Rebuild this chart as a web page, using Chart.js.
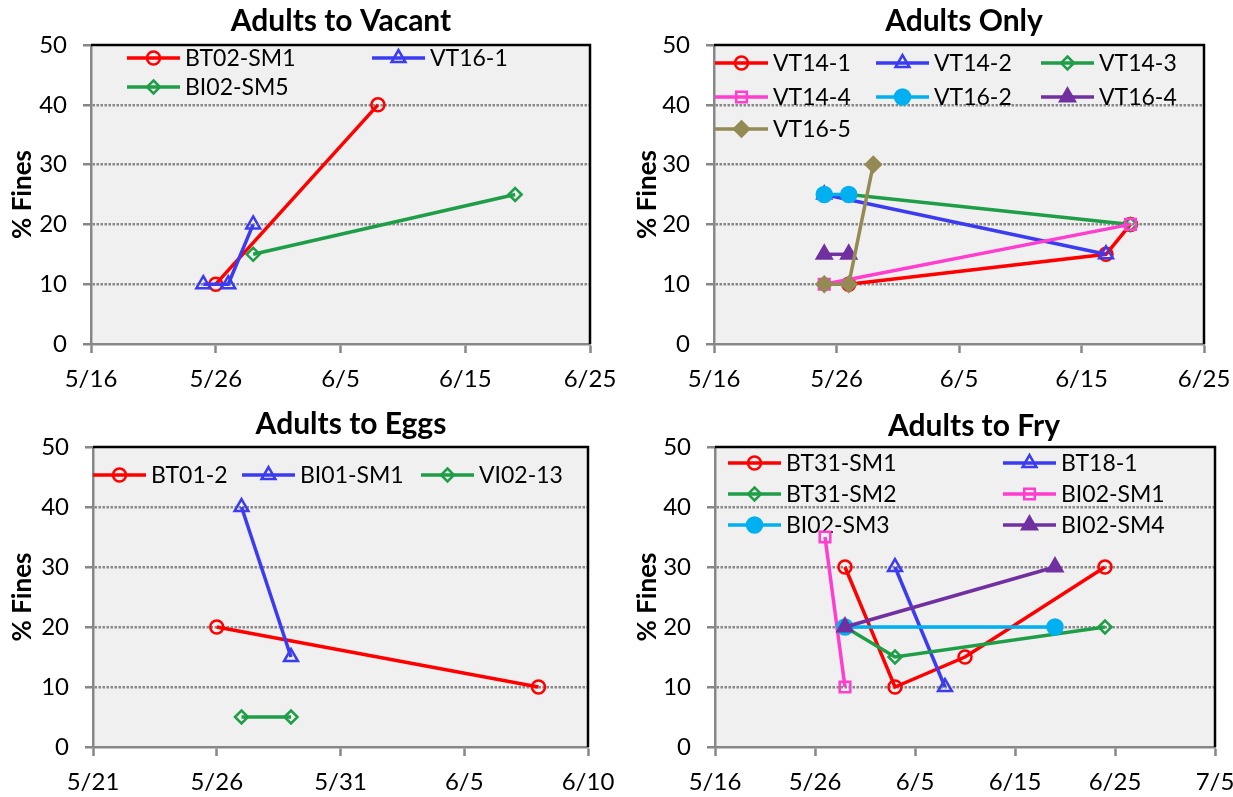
<!DOCTYPE html>
<html><head><meta charset="utf-8">
<script src="https://cdn.jsdelivr.net/npm/chart.js@4.4.1/dist/chart.umd.min.js"></script>
<style>
html,body{margin:0;padding:0;background:#fff;overflow:hidden;width:1233px;height:797px;position:relative;}
canvas{position:absolute;}
</style></head><body>
<canvas id="c1" width="616" height="400" style="left:0;top:0"></canvas>
<canvas id="c2" width="610" height="400" style="left:623px;top:0"></canvas>
<canvas id="c3" width="616" height="397" style="left:0;top:400px"></canvas>
<canvas id="c4" width="650" height="397" style="left:622px;top:400px"></canvas>
<script>
// ---------- DATA ----------
const fineTicks = [0, 10, 20, 30, 40, 50];

const vacantTitle = 'Adults to Vacant';
const vacantSeries = ['BT02-SM1', 'VT16-1', 'BI02-SM5'];
const vacantDates = [['5/26', '6/8'], ['5/25', '5/27', '5/29'], ['5/29', '6/19']];
const vacantFines = [[10, 40], [10, 10, 20], [15, 25]];
const vacantXTicks = ['5/16', '5/26', '6/5', '6/15', '6/25'];

const onlyTitle = 'Adults Only';
const onlySeries = ['VT14-1', 'VT14-2', 'VT14-3', 'VT14-4', 'VT16-2', 'VT16-4', 'VT16-5'];
const onlyDates = [['5/27', '6/17', '6/19'], ['5/25', '6/17'], ['5/27', '6/19'], ['5/25', '6/19'], ['5/25', '5/27'], ['5/25', '5/27'], ['5/25', '5/27', '5/29']];
const onlyFines = [[10, 15, 20], [25, 15], [25, 20], [10, 20], [25, 25], [15, 15], [10, 10, 30]];
const onlyXTicks = ['5/16', '5/26', '6/5', '6/15', '6/25'];

const eggsTitle = 'Adults to Eggs';
const eggsSeries = ['BT01-2', 'BI01-SM1', 'VI02-13'];
const eggsDates = [['5/26', '6/8'], ['5/27', '5/29'], ['5/27', '5/29']];
const eggsFines = [[20, 10], [40, 15], [5, 5]];
const eggsXTicks = ['5/21', '5/26', '5/31', '6/5', '6/10'];

const fryTitle = 'Adults to Fry';
const frySeries = ['BT31-SM1', 'BT18-1', 'BT31-SM2', 'BI02-SM1', 'BI02-SM3', 'BI02-SM4'];
const fryDates = [['5/29', '6/3', '6/10', '6/24'], ['6/3', '6/8'], ['5/29', '6/3', '6/24'], ['5/27', '5/29'], ['5/29', '6/19'], ['5/29', '6/19']];
const fryFines = [[30, 10, 15, 30], [30, 10], [20, 15, 20], [35, 10], [20, 20], [20, 30]];
const fryXTicks = ['5/16', '5/26', '6/5', '6/15', '6/25', '7/5'];

// ---------- STYLES ----------
const LOOK = {
  redCircle:    {color: '#ff0000', shape: 'circle',   r: 6.5, fill: false},
  blueTri:      {color: '#3b3bf2', shape: 'triangle', r: 8,   fill: false},
  greenDiamond: {color: '#1f9e48', shape: 'rectRot',  r: 6.5, fill: false},
  pinkSquare:   {color: '#ff3dce', shape: 'rect',     r: 7.5, fill: false},
  cyanDot:      {color: '#00b0f0', shape: 'circle',   r: 7.5, fill: true},
  purpleTri:    {color: '#7030a0', shape: 'triangle', r: 8.5, fill: true},
  khakiDiamond: {color: '#948a54', shape: 'rectRot',  r: 7.5, fill: true}
};

const PANELS = [
  {canvas: 'c1', title: vacantTitle, series: vacantSeries, dates: vacantDates, fines: vacantFines, xTicks: vacantXTicks,
   looks: ['redCircle', 'blueTri', 'greenDiamond'],
   lay: {top: 45, right: 26, yW: 91, xH: 56, yTitlePad: 7, titleX: 341, titleY: 21, cols: [36, 281], rows: [13, 42]}},
  {canvas: 'c2', title: onlyTitle, series: onlySeries, dates: onlyDates, fines: onlyFines, xTicks: onlyXTicks,
   looks: ['redCircle', 'blueTri', 'greenDiamond', 'pinkSquare', 'cyanDot', 'purpleTri', 'khakiDiamond'],
   lay: {top: 45, right: 29, yW: 91, xH: 56, yTitlePad: 9, titleX: 341, titleY: 21, cols: [1, 162, 327], rows: [18, 52, 84]}},
  {canvas: 'c3', title: eggsTitle, series: eggsSeries, dates: eggsDates, fines: eggsFines, xTicks: eggsXTicks,
   looks: ['redCircle', 'blueTri', 'greenDiamond'],
   lay: {top: 47, right: 28, yW: 93, xH: 50, yTitlePad: 7, titleX: 351, titleY: 24, cols: [0, 149, 328], rows: [28]}},
  {canvas: 'c4', title: fryTitle, series: frySeries, dates: fryDates, fines: fryFines, xTicks: fryXTicks,
   looks: ['redCircle', 'blueTri', 'greenDiamond', 'pinkSquare', 'cyanDot', 'purpleTri'],
   lay: {top: 47, right: 57, yW: 93, xH: 50, yTitlePad: 10, titleX: 352, titleY: 26, cols: [13, 288], rows: [16, 47, 78]}}
];

const DAY = 864e5;
function day(s) { const [m, d] = s.split('/').map(Number); return Date.UTC(2013, m - 1, d) / DAY; }
function dateLabel(v) { const dt = new Date(Math.round(v) * DAY); return (dt.getUTCMonth() + 1) + '/' + dt.getUTCDate(); }

function drawMark(ctx, look, x, y) {
  const r = look.r;
  ctx.save();
  ctx.beginPath();
  if (look.shape === 'circle') {
    ctx.arc(x, y, r, 0, Math.PI * 2);
  } else if (look.shape === 'triangle') {
    let a = 0;
    for (let k = 0; k < 3; k++) { const px = x + Math.sin(a) * r, py = y - Math.cos(a) * r; k ? ctx.lineTo(px, py) : ctx.moveTo(px, py); a += 2 * Math.PI / 3; }
    ctx.closePath();
  } else if (look.shape === 'rect') {
    const s = Math.SQRT1_2 * r; ctx.rect(x - s, y - s, 2 * s, 2 * s);
  } else {
    ctx.moveTo(x, y - r); ctx.lineTo(x + r, y); ctx.lineTo(x, y + r); ctx.lineTo(x - r, y); ctx.closePath();
  }
  if (look.fill) { ctx.fillStyle = look.color; ctx.fill(); }
  ctx.lineWidth = 2.5; ctx.strokeStyle = look.color; ctx.stroke();
  ctx.restore();
}

const decoPlugin = {
  id: 'deco',
  beforeDraw(chart, args, o) {
    const {ctx, chartArea: a} = chart;
    ctx.save();
    ctx.fillStyle = '#f0f0f0';
    ctx.fillRect(a.left, a.top, a.right - a.left, a.bottom - a.top);
    ctx.restore();
  },
  beforeDatasetsDraw(chart, args, o) {
    const {ctx, chartArea: a} = chart;
    ctx.save();
    ctx.strokeStyle = '#000'; ctx.lineWidth = 2.5;
    ctx.beginPath();
    ctx.moveTo(a.left, a.top); ctx.lineTo(a.right, a.top); ctx.lineTo(a.right, a.bottom);
    ctx.stroke();
    // legend
    const p = o.panel;
    ctx.font = '23px Lato';
    ctx.textBaseline = 'middle';
    ctx.textAlign = 'left';
    p.series.forEach((name, i) => {
      const look = LOOK[p.looks[i]];
      const c = i % p.lay.cols.length, r = Math.floor(i / p.lay.cols.length);
      const x0 = a.left + p.lay.cols[c], y = a.top + p.lay.rows[r];
      ctx.strokeStyle = look.color; ctx.lineWidth = 3.5;
      ctx.beginPath(); ctx.moveTo(x0, y); ctx.lineTo(x0 + 53, y); ctx.stroke();
      drawMark(ctx, look, x0 + 26.5, y);
      ctx.fillStyle = '#000';
      ctx.fillText(name, x0 + 58, y + 1);
    });
    ctx.restore();
  },
  afterDraw(chart, args, o) {
    const {ctx} = chart;
    const p = o.panel;
    ctx.save();
    ctx.font = 'bold 30px Lato';
    ctx.fillStyle = '#000';
    ctx.textAlign = 'center';
    ctx.textBaseline = 'middle';
    ctx.fillText(p.title, p.lay.titleX, p.lay.titleY);
    ctx.restore();
  }
};

PANELS.forEach(p => {
  const L = p.lay;
  const datasets = p.series.map((name, i) => {
    const look = LOOK[p.looks[i]];
    return {
      label: name,
      data: p.dates[i].map((d, j) => ({x: day(d), y: p.fines[i][j]})),
      borderColor: look.color,
      backgroundColor: look.color,
      borderWidth: 3.5,
      pointStyle: look.shape,
      pointRadius: look.r,
      pointHoverRadius: look.r,
      pointBorderWidth: 2.5,
      pointBorderColor: look.color,
      pointBackgroundColor: look.fill ? look.color : 'rgba(0,0,0,0)',
      tension: 0,
      fill: false,
      clip: false,
      order: -i
    };
  });
  new Chart(document.getElementById(p.canvas), {
    type: 'line',
    data: {datasets},
    plugins: [decoPlugin],
    options: {
      responsive: false,
      animation: false,
      events: [],
      layout: {padding: {left: 0, top: L.top, right: L.right, bottom: 0}},
      plugins: {legend: {display: false}, tooltip: {enabled: false}, title: {display: false}, deco: {panel: p}},
      scales: {
        x: {
          type: 'linear',
          min: day(p.xTicks[0]),
          max: day(p.xTicks[p.xTicks.length - 1]),
          afterBuildTicks: s => { s.ticks = p.xTicks.map(t => ({value: day(t)})); },
          afterFit: s => { s.height = L.xH; s.paddingLeft = 0; s.paddingRight = 0; },
          grid: {display: true, drawOnChartArea: false, drawTicks: true, tickLength: 9, tickColor: '#878787', tickWidth: 2.5, tickBorderDash: [], color: '#878787'},
          border: {display: true, color: '#878787', width: 2.5},
          ticks: {callback: v => dateLabel(v), font: {family: 'Lato', size: 24}, color: '#000', padding: 12, maxRotation: 0, autoSkip: false}
        },
        y: {
          min: 0, max: 50,
          afterBuildTicks: s => { s.ticks = fineTicks.map(v => ({value: v})); },
          afterFit: s => { s.width = L.yW; s.paddingTop = 0; s.paddingBottom = 0; },
          grid: {
            color: c => (c.tick && (c.tick.value === 0 || c.tick.value === 50)) ? 'rgba(0,0,0,0)' : '#888888',
            lineWidth: 2.5, tickLength: 8, tickColor: '#878787', tickWidth: 2.5, tickBorderDash: []
          },
          border: {display: true, color: '#878787', width: 2.5, dash: [2.5, 1.5]},
          ticks: {font: {family: 'Lato', size: 24}, color: '#000', padding: 16},
          title: {display: true, text: '% Fines', font: {family: 'Lato', size: 26, weight: 'bold'}, color: '#000', padding: {top: L.yTitlePad, bottom: 0}}
        }
      }
    }
  });
});
</script>
</body></html>
